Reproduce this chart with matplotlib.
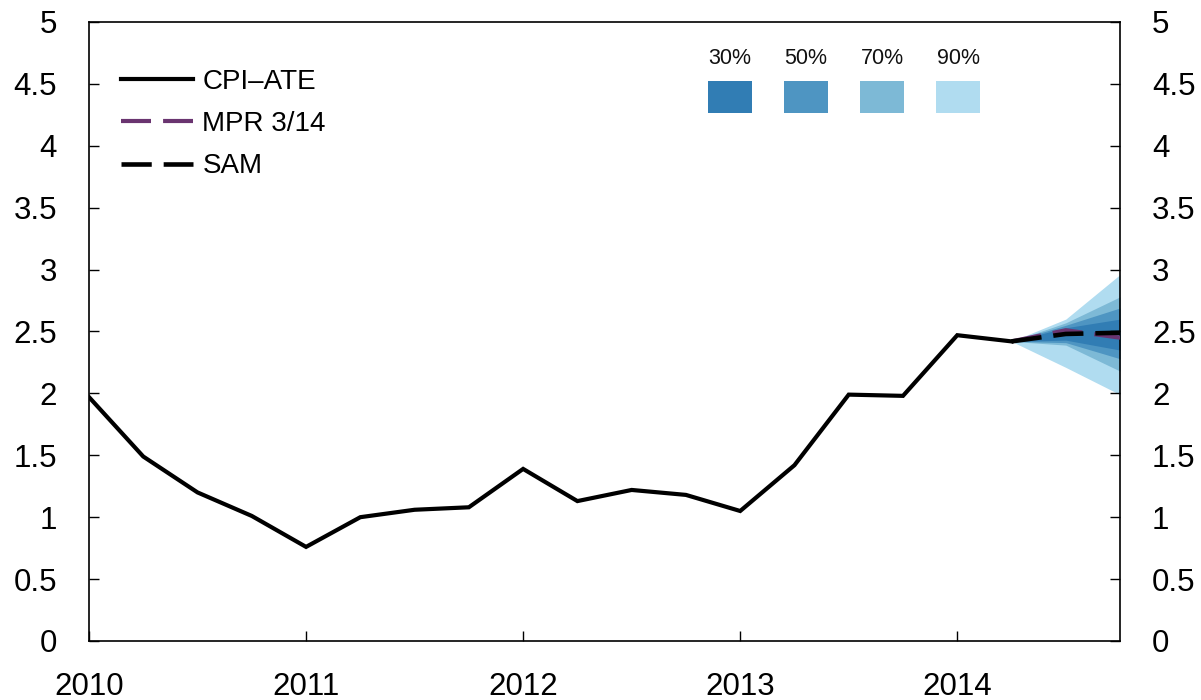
import matplotlib
matplotlib.use("Agg")
import matplotlib.pyplot as plt
import numpy as np

plt.rcParams['font.family'] = ['Liberation Sans', 'DejaVu Sans']

# Quarterly CPI-ATE (4-quarter growth), 2010Q1 .. 2014Q2
hist_x = [2010.0, 2010.25, 2010.5, 2010.75, 2011.0, 2011.25, 2011.5, 2011.75,
          2012.0, 2012.25, 2012.5, 2012.75, 2013.0, 2013.25, 2013.5, 2013.75,
          2014.0, 2014.25]
cpi_ate = [1.97, 1.49, 1.20, 1.01, 0.76, 1.00, 1.06, 1.08,
           1.39, 1.13, 1.22, 1.18, 1.05, 1.42, 1.99, 1.98,
           2.47, 2.42]

fc_x = [2014.25, 2014.5, 2014.75]
mpr_314 = [2.42, 2.51, 2.45]
sam = [2.42, 2.48, 2.49]

# Fan bands (lower, upper) per percentile
band_labels = ['90%', '70%', '50%', '30%']
band_lower = {'90%': [2.42, 2.21, 1.99], '70%': [2.42, 2.39, 2.18],
              '50%': [2.42, 2.41, 2.28], '30%': [2.42, 2.43, 2.35]}
band_upper = {'90%': [2.42, 2.60, 2.96], '70%': [2.42, 2.57, 2.78],
              '50%': [2.42, 2.55, 2.69], '30%': [2.42, 2.53, 2.60]}
band_colors = {'30%': '#317db4', '50%': '#4e95c2', '70%': '#7db9d6', '90%': '#b0dcf0'}

yticks = [0, 0.5, 1, 1.5, 2, 2.5, 3, 3.5, 4, 4.5, 5]
ytick_labels = ['0', '0.5', '1', '1.5', '2', '2.5', '3', '3.5', '4', '4.5', '5']
xticks = [2010, 2011, 2012, 2013, 2014]

fig = plt.figure(figsize=(12.01, 7.0), dpi=100)
ax = fig.add_axes([0.0741, 0.0843, 0.8585, 0.8843])

for lab in band_labels:
    ax.fill_between(fc_x, band_lower[lab], band_upper[lab], color=band_colors[lab],
                    linewidth=0, zorder=1)

ax.plot(hist_x, cpi_ate, color='black', lw=3, zorder=4, label='CPI\u2013ATE',
        solid_joinstyle='miter')
ax.plot(fc_x, mpr_314, color='#6a3470', lw=3, dashes=(7.2, 2.9), zorder=3,
        label='MPR 3/14')
ax.plot(fc_x, sam, color='black', lw=3.3, dashes=(6.6, 2.6), zorder=5, label='SAM')

ax.set_xlim(2010, 2014.75)
ax.set_ylim(0, 5)
ax.set_yticks(yticks)
ax.set_yticklabels(ytick_labels)
ax.set_xticks(xticks)
ax.set_xticklabels([str(x) for x in xticks])

ax.tick_params(axis='y', direction='in', length=7, width=1, labelsize=22.5, pad=23,
               left=True, right=True, labelleft=True, labelright=True)
ax.tick_params(axis='x', direction='in', length=7, width=1, labelsize=22.5, pad=22)
for sp in ax.spines.values():
    sp.set_linewidth(1.2)

leg = ax.legend(loc='upper left', bbox_to_anchor=(0.031, 0.924), frameon=False,
                fontsize=20, handlelength=2.6, handletextpad=0.33,
                labelspacing=0.58, borderaxespad=0, borderpad=0)

# Fan legend boxes
box_order = ['30%', '50%', '70%', '90%']
box_x0 = [708, 784, 860, 936]
for lab, x0 in zip(box_order, box_x0):
    fx = x0 / 1201
    fig.patches.append(plt.Rectangle((fx, (700 - 113) / 700), 44 / 1201, 32 / 700,
                                     transform=fig.transFigure, color=band_colors[lab],
                                     linewidth=0))
    fig.text(fx + 22 / 1201, (700 - 58) / 700, lab, ha='center', va='center',
             fontsize=15.5, color='#111111')

fig.savefig('out.png', dpi=100)
